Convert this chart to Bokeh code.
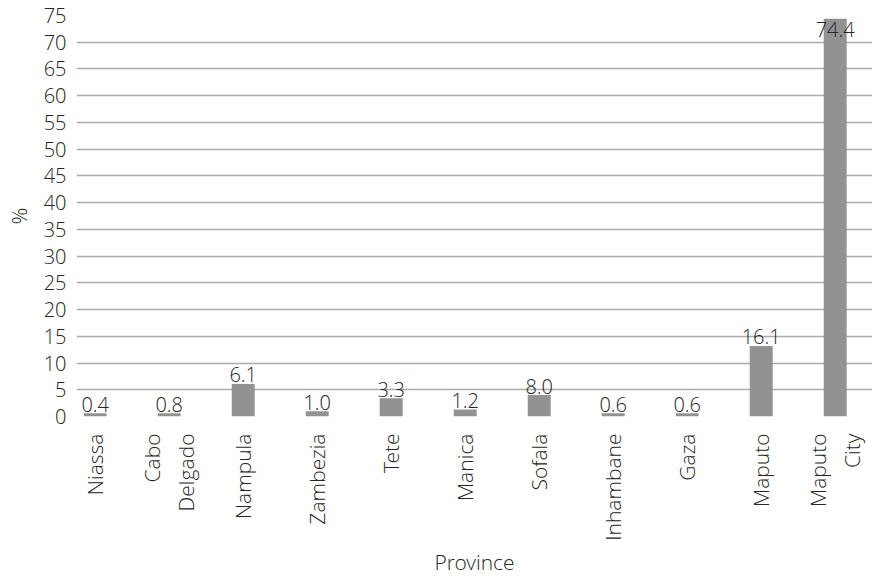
import math
from bokeh.plotting import figure
from bokeh.models import ColumnDataSource, FixedTicker, Range1d
from bokeh.core.properties import value
from bokeh.embed import file_html
from bokeh.resources import INLINE

# ---- data ----
provinces = ["Niassa", "Cabo\nDelgado", "Nampula", "Zambezia", "Tete", "Manica",
             "Sofala", "Inhambane", "Gaza", "Maputo", "Maputo\nCity"]
bar_heights = [0.6, 0.6, 6.1, 1.0, 3.4, 1.3, 4.0, 0.6, 0.6, 13.2, 74.4]
label_values = [0.4, 0.8, 6.1, 1.0, 3.3, 1.2, 8.0, 0.6, 0.6, 16.1, 74.4]
y_ticks = list(range(0, 80, 5))

FONT = "'Open Sans Light', 'Open Sans'"
TXT = "#262626"
FS = "21px"
FS_NUM = "20px"

xs = list(range(len(provinces)))
label_text = ["%.1f" % v for v in label_values]
# labels that would run past the top of the plot are put inside the bar
offsets = [11 if h > 70 else -9 for h in bar_heights]

src = ColumnDataSource(dict(x=xs, top=bar_heights, lab=label_text, off=offsets))

p = figure(width=872, height=578, output_backend="svg", toolbar_location=None,
           x_range=Range1d(-0.253, 10.504), y_range=Range1d(0, 75),
           frame_height=401,
           min_border_left=76, min_border_right=0, min_border_top=15,
           min_border_bottom=162)
p.outline_line_color = None
p.background_fill_color = "white"
p.border_fill_color = "white"

p.vbar(x="x", top="top", width=0.31, bottom=0, source=src,
       fill_color="#929292", line_color=None)

p.text(x="x", y="top", text="lab", source=src, y_offset="off",
       text_align="center", text_baseline="alphabetic",
       text_font=value(FONT), text_font_size=FS_NUM, text_color=TXT)

# grid
p.xgrid.grid_line_color = None
p.ygrid.grid_line_color = "#ababab"
p.ygrid.grid_line_width = 1.3
p.ygrid.ticker = FixedTicker(ticks=y_ticks)

# y axis
ya = p.yaxis[0]
ya.ticker = FixedTicker(ticks=y_ticks)
ya.axis_line_color = None
ya.major_tick_line_color = None
ya.minor_tick_line_color = None
ya.major_tick_out = 0
ya.major_label_standoff = 10
ya.major_label_text_font = FONT
ya.major_label_text_font_size = FS_NUM
ya.major_label_text_color = TXT
ya.axis_label = "%"
ya.axis_label_text_font = FONT
ya.axis_label_text_font_size = FS
ya.axis_label_text_font_style = "normal"
ya.axis_label_text_color = TXT
ya.axis_label_standoff = 8

# x axis
xa = p.xaxis[0]
xa.ticker = FixedTicker(ticks=xs)
xa.major_label_overrides = {i: name for i, name in zip(xs, provinces)}
xa.major_label_orientation = math.pi / 2
xa.axis_line_color = None
xa.major_tick_line_color = None
xa.minor_tick_line_color = None
xa.major_tick_out = 0
xa.major_label_standoff = 17
xa.major_label_text_font = FONT
xa.major_label_text_font_size = FS
xa.major_label_text_color = TXT
xa.axis_label = "Province"
xa.axis_label_text_font = FONT
xa.axis_label_text_font_size = FS
xa.axis_label_text_font_style = "normal"
xa.axis_label_text_color = TXT
xa.axis_label_standoff = 4

open("out.html", "w").write(file_html(p, INLINE))
